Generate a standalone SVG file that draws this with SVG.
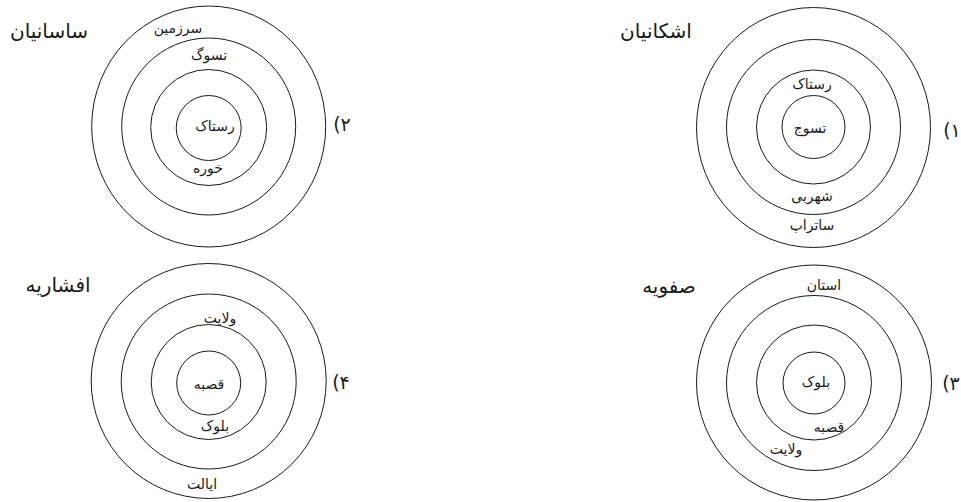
<svg xmlns="http://www.w3.org/2000/svg" width="961" height="502" viewBox="0 0 961 502">
<style>
.ring{fill:none;stroke:#1a1a1a;stroke-width:1}
text{font-family:"DejaVu Sans",sans-serif;fill:#1a1a1a;text-anchor:middle}
.t{font-size:20px}
.l{font-size:14px}
.n{font-size:19px;direction:rtl;unicode-bidi:bidi-override}
</style>
<rect width="961" height="502" fill="#ffffff"/>
<g id="connectors"></g>
<g id="diagram-2">
<ellipse class="ring" cx="208.7" cy="126.5" rx="117" ry="120.5"/>
<ellipse class="ring" cx="208.7" cy="126.5" rx="87" ry="88.5"/>
<circle class="ring" cx="208.7" cy="127.5" r="58"/>
<circle class="ring" cx="208.7" cy="128" r="32.5"/>
<text class="t" x="49" y="38">ساسانیان</text>
<text class="l" x="178" y="33">سرزمین</text>
<text class="l" x="209" y="60">تسوگ</text>
<text class="l" x="215" y="131">رستاک</text>
<text class="l" x="208" y="173">خوره</text>
<text class="n" x="342" y="131" direction="rtl" unicode-bidi="bidi-override">۲)</text>
</g>
<g id="diagram-1">
<ellipse class="ring" cx="813.5" cy="127.5" rx="117" ry="120"/>
<ellipse class="ring" cx="813.5" cy="127" rx="87" ry="87.5"/>
<circle class="ring" cx="813.5" cy="127" r="57"/>
<circle class="ring" cx="813.5" cy="127" r="31.5"/>
<text class="t" x="656" y="38">اشکانیان</text>
<text class="l" x="812" y="89">رستاک</text>
<text class="l" x="810" y="133">تسوج</text>
<text class="l" x="812" y="201">شهربی</text>
<text class="l" x="812" y="230">ساتراپ</text>
<text class="n" x="952" y="137" direction="rtl" unicode-bidi="bidi-override">۱)</text>
</g>
<g id="diagram-4">
<circle class="ring" cx="208.7" cy="381" r="117.5"/>
<circle class="ring" cx="208.7" cy="381.5" r="87.5"/>
<circle class="ring" cx="208.7" cy="382" r="57.5"/>
<circle class="ring" cx="208.7" cy="383" r="32"/>
<text class="t" x="58" y="292">افشاریه</text>
<text class="l" x="220" y="323">ولایت</text>
<text class="l" x="209" y="389">قصبه</text>
<text class="l" x="215" y="431">بلوک</text>
<text class="l" x="202" y="489">ایالت</text>
<text class="n" x="341" y="389" direction="rtl" unicode-bidi="bidi-override">۴)</text>
</g>
<g id="diagram-3">
<circle class="ring" cx="814" cy="382.5" r="117.5"/>
<circle class="ring" cx="814" cy="383" r="87.5"/>
<circle class="ring" cx="814" cy="382.5" r="57.5"/>
<circle class="ring" cx="814" cy="383" r="31"/>
<text class="t" x="669" y="293">صفویه</text>
<text class="l" x="824" y="290">استان</text>
<text class="l" x="816" y="387">بلوک</text>
<text class="l" x="829" y="432">قصبه</text>
<text class="l" x="786" y="454">ولایت</text>
<text class="n" x="951" y="390" direction="rtl" unicode-bidi="bidi-override">۳)</text>
</g>
</svg>
